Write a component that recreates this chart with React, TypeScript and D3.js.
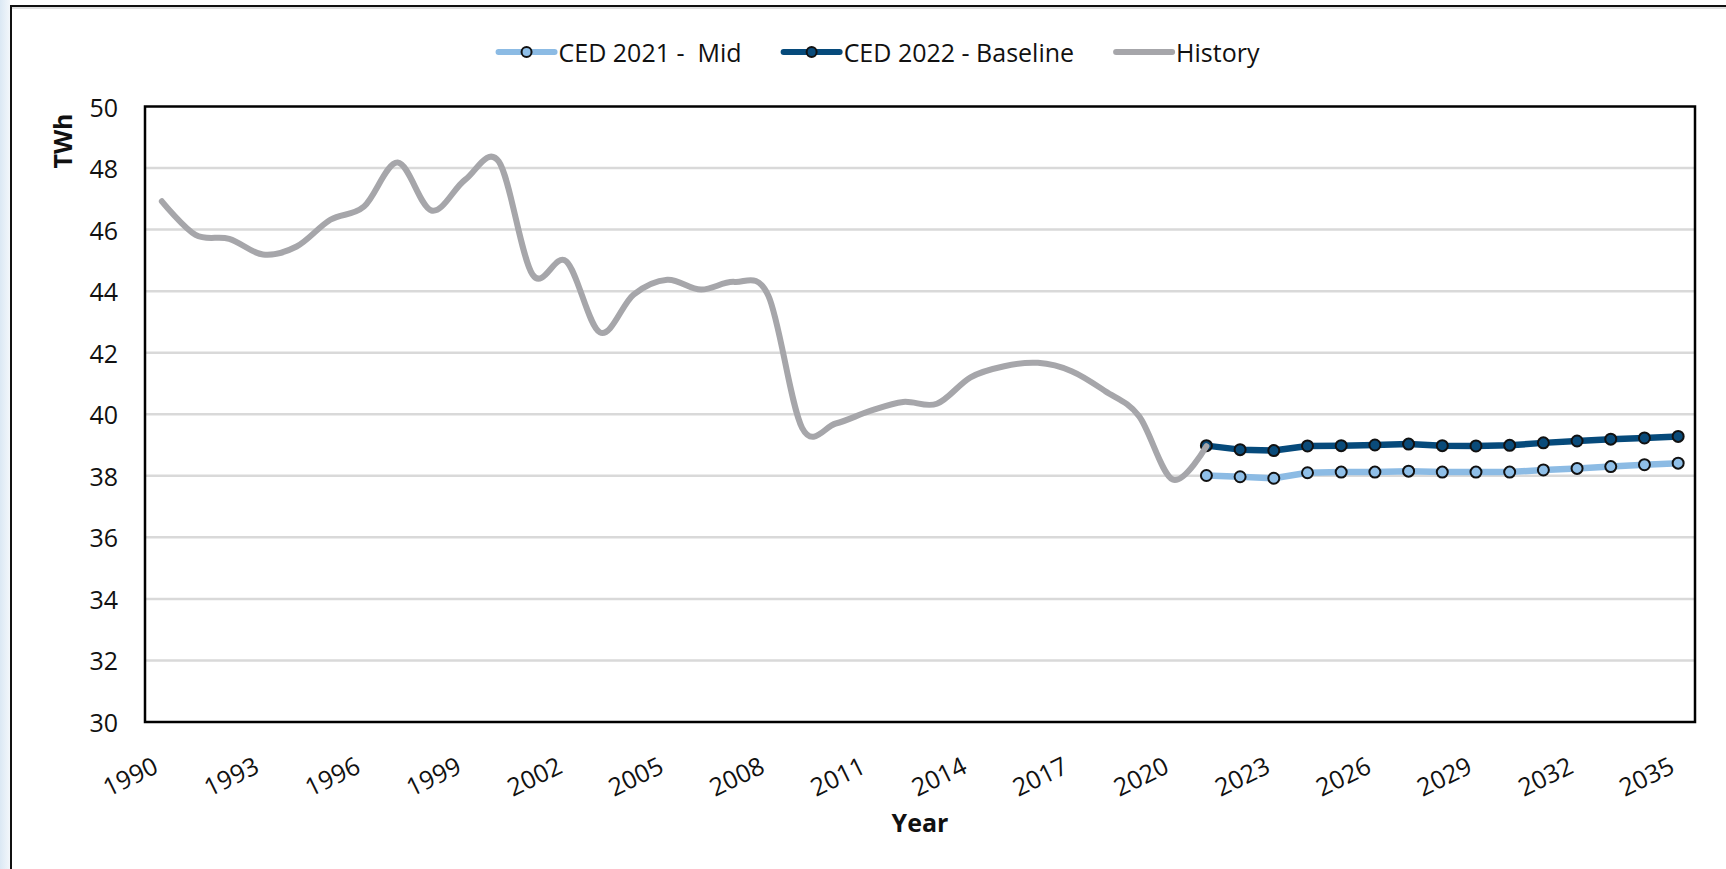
import React from 'react';
import * as d3 from 'd3';

// categories (Excel category axis, one slot per year)
const years = [
  1990, 1991, 1992, 1993, 1994, 1995, 1996, 1997, 1998, 1999, 2000, 2001,
  2002, 2003, 2004, 2005, 2006, 2007, 2008, 2009, 2010, 2011, 2012, 2013,
  2014, 2015, 2016, 2017, 2018, 2019, 2020, 2021, 2022, 2023, 2024, 2025,
  2026, 2027, 2028, 2029, 2030, 2031, 2032, 2033, 2034, 2035,
];
const yearLabels = [
  1990, 1993, 1996, 1999, 2002, 2005, 2008, 2011, 2014, 2017, 2020, 2023,
  2026, 2029, 2032, 2035,
];
const yTicks = [30, 32, 34, 36, 38, 40, 42, 44, 46, 48, 50];

// History 1990-2021 (TWh)
const historyYears = years.slice(0, 32);
const historyValues = [
  46.92, 45.83, 45.7, 45.19, 45.45, 46.32, 46.75, 48.18, 46.62, 47.62, 48.21,
  44.54, 44.97, 42.66, 43.89, 44.37, 44.05, 44.3, 43.85, 39.56, 39.7, 40.1,
  40.4, 40.34, 41.2, 41.56, 41.67, 41.4, 40.75, 39.94, 37.88, 38.96,
];

// forecasts 2021-2035
const forecastYears = years.slice(31);
const ced2021Mid = [
  38.01, 37.97, 37.92, 38.1, 38.12, 38.12, 38.15, 38.12, 38.12, 38.12, 38.19,
  38.24, 38.3, 38.36, 38.41,
];
const ced2022Baseline = [
  38.98, 38.85, 38.82, 38.97, 38.98, 39.0, 39.03, 38.98, 38.97, 38.99, 39.07,
  39.13, 39.19, 39.23, 39.28,
];

const FONT = '"Open Sans", "DejaVu Sans", sans-serif';
const width = 1726;
const height = 869;
const plot = { left: 145, right: 1695, top: 106.5, bottom: 722 };

const colors = {
  mid: '#8cbbe4',
  midMarker: '#8fbfe8',
  base: '#064a7b',
  baseMarker: '#0a4b7a',
  history: '#a6a6aa',
  grid: '#d9d9d9',
};

const measure = (text: string, size: number) => {
  const ctx = document.createElement('canvas').getContext('2d');
  if (!ctx) return text.length * size * 0.5;
  ctx.font = `${size}px ${FONT}`;
  return ctx.measureText(text).width;
};

export default function App() {
  const xScale = d3
    .scalePoint<number>()
    .domain(years)
    .range([plot.left, plot.right])
    .padding(0.5);
  const yScale = d3.scaleLinear().domain([30, 50]).range([plot.bottom, plot.top]);

  const historyLine = d3
    .line<number>()
    .x((_, i) => xScale(historyYears[i]) as number)
    .y(d => yScale(d))
    .curve(d3.curveCardinal.tension(0));

  const forecastLine = d3
    .line<number>()
    .x((_, i) => xScale(forecastYears[i]) as number)
    .y(d => yScale(d));

  // legend laid out from measured text widths, centred over the plot
  const legendItems = [
    { label: 'CED 2021 -  Mid', color: colors.mid, marker: colors.midMarker },
    { label: 'CED 2022 - Baseline', color: colors.base, marker: colors.baseMarker },
    { label: 'History', color: colors.history, marker: null },
  ];
  const swatch = 56;
  const gap = 42;
  const fontSize = 25;
  const widths = legendItems.map(d => measure(d.label, fontSize));
  const total =
    widths.reduce((a, b) => a + b, 0) + legendItems.length * (swatch + 4) + gap * (legendItems.length - 1);
  let cursor = 879 - total / 2;
  const legendPos = widths.map(w => {
    const x = cursor;
    cursor += swatch + 4 + w + gap;
    return x;
  });
  const legendY = 52;

  return (
    <div style={{ position: 'absolute', left: 0, top: 0 }}>
      <svg width={width} height={height} style={{ display: 'block', background: '#fff' }}>
        <defs>
          <linearGradient id='edge' x1='0' x2='1' y1='0' y2='0'>
            <stop offset='0%' stopColor='#dbe8f4' />
            <stop offset='100%' stopColor='#f3f7fb' />
          </linearGradient>
        </defs>
        {/* slide frame */}
        <rect x={0} y={0} width={10} height={height} fill='url(#edge)' />
        <line x1={11} x2={width} y1={8} y2={8} stroke='#e0e0e0' strokeWidth={2} />
        <line x1={10} x2={width} y1={6} y2={6} stroke='#111' strokeWidth={2} />
        <line x1={11} x2={11} y1={5} y2={height} stroke='#111' strokeWidth={2} />

        {/* gridlines */}
        {yTicks
          .filter(t => t !== 30 && t !== 50)
          .map(t => (
            <line
              key={t}
              x1={plot.left}
              x2={plot.right}
              y1={yScale(t)}
              y2={yScale(t)}
              stroke={colors.grid}
              strokeWidth={2.5}
            />
          ))}

        {/* y tick labels */}
        {yTicks.map(t => (
          <text
            key={t}
            x={118}
            y={yScale(t)}
            textAnchor='end'
            dominantBaseline='central'
            fontFamily={FONT}
            fontSize={fontSize}
            fill='#111'
          >
            {t}
          </text>
        ))}

        {/* x tick labels */}
        {yearLabels.map(yr => {
          const x = (xScale(yr) as number) - 2;
          const y = plot.bottom + 50;
          return (
            <text
              key={yr}
              x={x}
              y={y}
              transform={`rotate(-26, ${x}, ${y})`}
              textAnchor='end'
              fontFamily={FONT}
              fontSize={fontSize}
              fill='#111'
            >
              {yr}
            </text>
          );
        })}

        {/* axis titles */}
        <text
          x={(plot.left + plot.right) / 2}
          y={822}
          textAnchor='middle'
          dominantBaseline='central'
          fontFamily={FONT}
          fontWeight='bold'
          fontSize={fontSize}
          fill='#111'
        >
          Year
        </text>
        <text
          transform='translate(62,141) rotate(-90)'
          textAnchor='middle'
          dominantBaseline='central'
          fontFamily={FONT}
          fontWeight='bold'
          fontSize={fontSize}
          fill='#111'
        >
          TWh
        </text>

        {/* series */}
        <path d={forecastLine(ced2021Mid) || ''} fill='none' stroke={colors.mid} strokeWidth={6.5} strokeLinejoin='round' />
        {ced2021Mid.map((v, i) => (
          <circle
            key={'m' + i}
            cx={xScale(forecastYears[i])}
            cy={yScale(v)}
            r={5.5}
            fill={colors.midMarker}
            stroke='#111'
            strokeWidth={2}
          />
        ))}
        <path d={forecastLine(ced2022Baseline) || ''} fill='none' stroke={colors.base} strokeWidth={6.5} strokeLinejoin='round' />
        {ced2022Baseline.map((v, i) => (
          <circle
            key={'b' + i}
            cx={xScale(forecastYears[i])}
            cy={yScale(v)}
            r={5.5}
            fill={colors.baseMarker}
            stroke='#111'
            strokeWidth={2}
          />
        ))}
        <path
          d={historyLine(historyValues) || ''}
          fill='none'
          stroke={colors.history}
          strokeWidth={6}
          strokeLinejoin='round'
          strokeLinecap='round'
        />

        {/* plot border */}
        <rect
          x={plot.left}
          y={plot.top}
          width={plot.right - plot.left}
          height={plot.bottom - plot.top}
          fill='none'
          stroke='#000'
          strokeWidth={2.5}
        />

        {/* legend */}
        {legendItems.map((d, i) => {
          const x = legendPos[i];
          return (
            <g key={d.label}>
              <line
                x1={x}
                x2={x + swatch}
                y1={legendY}
                y2={legendY}
                stroke={d.color}
                strokeWidth={6}
                strokeLinecap='round'
              />
              {d.marker && (
                <circle cx={x + swatch / 2} cy={legendY} r={5} fill={d.marker} stroke='#111' strokeWidth={2} />
              )}
              <text
                x={x + swatch + 4}
                y={legendY}
                dominantBaseline='central'
                fontFamily={FONT}
                fontSize={fontSize}
                fill='#111'
                style={{ whiteSpace: 'pre' }}
              >
                {d.label}
              </text>
            </g>
          );
        })}
      </svg>
    </div>
  );
}
